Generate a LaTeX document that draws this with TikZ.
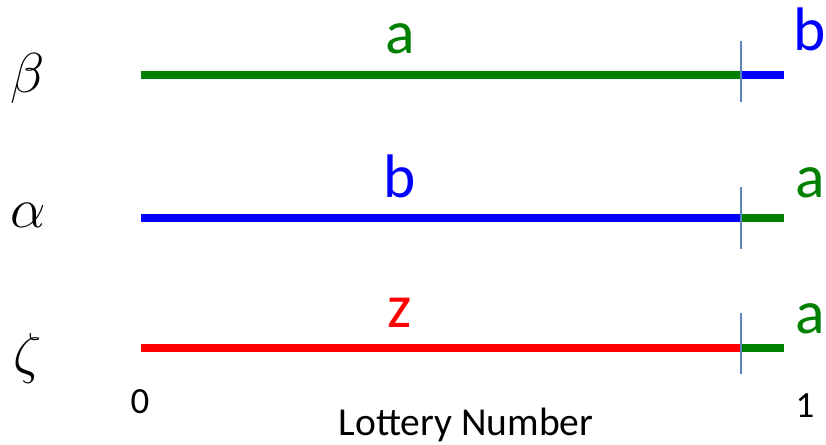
\RequirePackage{fix-cm}
\documentclass[tikz,border=0pt]{standalone}
\usepackage{fontspec}
\setmainfont{Carlito}
\usepackage{tikz}
\usetikzlibrary{positioning,calc}
\definecolor{lgreen}{RGB}{0,128,0}
\definecolor{lblue}{RGB}{0,0,255}
\definecolor{lred}{RGB}{255,0,0}
\definecolor{splitc}{RGB}{91,131,189}

\begin{document}
\begin{tikzpicture}[
 bar/.style={line width=5pt},
 splitbar/.style={draw=splitc,line width=1.3pt},
 lbl/.style={anchor=base,inner sep=0pt,font=\fontsize{35}{40}\selectfont},
 greek/.style={anchor=base,inner sep=0pt,font=\fontsize{32}{36}\selectfont},
 axis/.style={anchor=base,inner sep=0pt,font=\fontsize{21}{25}\selectfont}]
\useasboundingbox (0,0) rectangle (16.52,8.88);
% rows: beta, alpha, zeta
\coordinate (bs) at (2.82,7.38);
\coordinate (bm) at (14.82,7.38);
\coordinate (be) at (15.68,7.38);
\coordinate (as) at (2.82,4.52);
\coordinate (am) at (14.82,4.52);
\coordinate (ae) at (15.68,4.52);
\coordinate (zs) at (2.82,1.92);
\coordinate (zm) at (14.82,1.92);
\coordinate (ze) at (15.68,1.92);
\draw[bar,lgreen] (bs) -- (bm);
\draw[bar,lblue] (bm) -- (be);
\draw[bar,lblue] (as) -- (am);
\draw[bar,lgreen] (am) -- (ae);
\draw[bar,lred] (zs) -- (zm);
\draw[bar,lgreen] (zm) -- (ze);
\draw[splitbar] ($(bm)+(0,0.68)$) -- ($(bm)+(0,-0.54)$);
\draw[splitbar] ($(am)+(0,0.62)$) -- ($(am)+(0,-0.62)$);
\draw[splitbar] ($(zm)+(0,0.70)$) -- ($(zm)+(0,-0.52)$);
\node[greek] (gb) at (0.56,7.04) {$\beta$};
\node[greek] (ga) at (0.56,4.34) {$\alpha$};
\node[greek] (gz) at (0.56,1.44) {$\zeta$};
\node[lbl,lgreen] (la1) at (8.0,7.82) {a};
\node[lbl,lblue] (lb1) at (16.2,7.88) {b};
\node[lbl,lblue] (lb2) at (8.0,4.94) {b};
\node[lbl,lgreen] (la2) at (16.2,4.94) {a};
\node[lbl,lred] (lz3) at (8.0,2.34) {z};
\node[lbl,lgreen] (la3) at (16.2,2.22) {a};
\node[axis] (n0) at (2.8,0.62) {0};
\node[axis] (n1) at (16.1,0.54) {1};
\node[axis,font=\fontsize{22.5}{27}\selectfont] (xl) at (9.32,0.18) {Lottery Number};
\end{tikzpicture}
\end{document}
